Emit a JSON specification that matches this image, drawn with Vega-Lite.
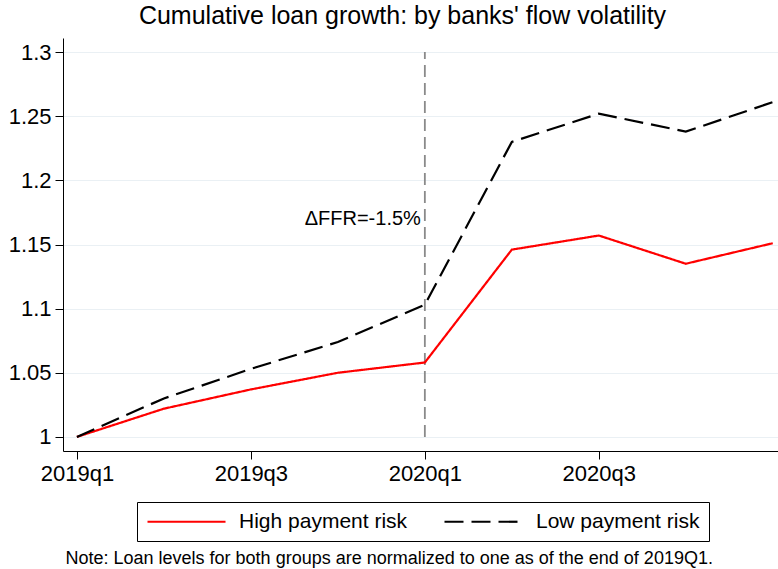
{
  "$schema": "https://vega.github.io/schema/vega-lite/v6.json",
  "width": 715,
  "height": 413,
  "autosize": {"type": "none"},
  "padding": {"left": 63, "top": 38, "right": 0, "bottom": 118},
  "background": "white",
  "title": {
    "text": "Cumulative loan growth: by banks' flow volatility",
    "font": "Liberation Sans",
    "fontSize": 25,
    "fontWeight": "normal",
    "color": "black",
    "anchor": "middle",
    "dx": -18,
    "offset": 9
  },
  "config": {
    "view": {"stroke": null},
    "font": "Liberation Sans"
  },
  "datasets": {
    "series": [
      {"t": 0, "group": "High payment risk", "value": 1.0},
      {"t": 1, "group": "High payment risk", "value": 1.022},
      {"t": 2, "group": "High payment risk", "value": 1.037},
      {"t": 3, "group": "High payment risk", "value": 1.05},
      {"t": 4, "group": "High payment risk", "value": 1.058},
      {"t": 5, "group": "High payment risk", "value": 1.146},
      {"t": 6, "group": "High payment risk", "value": 1.157},
      {"t": 7, "group": "High payment risk", "value": 1.135},
      {"t": 8, "group": "High payment risk", "value": 1.151},
      {"t": 0, "group": "Low payment risk", "value": 1.0},
      {"t": 1, "group": "Low payment risk", "value": 1.03},
      {"t": 2, "group": "Low payment risk", "value": 1.053},
      {"t": 3, "group": "Low payment risk", "value": 1.074},
      {"t": 4, "group": "Low payment risk", "value": 1.103},
      {"t": 5, "group": "Low payment risk", "value": 1.23},
      {"t": 6, "group": "Low payment risk", "value": 1.252},
      {"t": 7, "group": "Low payment risk", "value": 1.238},
      {"t": 8, "group": "Low payment risk", "value": 1.261}
    ],
    "one": [{}]
  },
  "layer": [
    {
      "data": {"name": "one"},
      "mark": {"type": "rule", "color": "#8a8a8a", "strokeDash": [12, 6], "strokeWidth": 1.8},
      "encoding": {
        "x": {"datum": 4, "type": "quantitative"},
        "y": {"datum": 1.0, "type": "quantitative"},
        "y2": {"datum": 1.3}
      }
    },
    {
      "data": {"name": "series"},
      "mark": {"type": "line", "strokeWidth": 2.2},
      "encoding": {
        "x": {
          "field": "t",
          "type": "quantitative",
          "scale": {"domain": [-0.16, 8.06], "nice": false, "zero": false},
          "axis": {
            "values": [0, 2, 4, 6],
            "labelExpr": "['2019q1','2019q2','2019q3','2019q4','2020q1','2020q2','2020q3','2020q4','2021q1'][datum.value]",
            "grid": false,
            "domainColor": "black",
            "tickColor": "black",
            "tickSize": 8,
            "labelFontSize": 22,
            "labelColor": "black",
            "labelPadding": 4,
            "title": "Note: Loan levels for both groups are normalized to one as of the end of 2019Q1.",
            "titleFontSize": 18,
            "titleFontWeight": "normal",
            "titleColor": "black",
            "titleAlign": "left",
            "titleAnchor": "start",
            "titleX": 2,
            "titleY": 112,
            "titleBaseline": "alphabetic"
          }
        },
        "y": {
          "field": "value",
          "type": "quantitative",
          "scale": {"domain": [0.989, 1.311], "nice": false, "zero": false},
          "axis": {
            "values": [1, 1.05, 1.1, 1.15, 1.2, 1.25, 1.3],
            "format": ".2~f",
            "grid": true,
            "gridColor": "#eaf0f4",
            "gridWidth": 1.2,
            "domainColor": "black",
            "tickColor": "black",
            "tickSize": 8,
            "labelFontSize": 22,
            "labelColor": "black",
            "labelPadding": 4,
            "title": null
          }
        },
        "color": {
          "field": "group",
          "type": "nominal",
          "scale": {"domain": ["High payment risk", "Low payment risk"], "range": ["#ff0000", "#000000"]},
          "legend": {
            "orient": "none",
            "legendX": 74,
            "legendY": 464,
            "direction": "horizontal",
            "title": null,
            "strokeColor": "black",
            "padding": 9,
            "symbolType": "M-1,0H7.67",
            "symbolSize": 324,
            "symbolStrokeWidth": 2.2,
            "labelFontSize": 21,
            "labelColor": "black",
            "labelOffset": 72,
            "columnPadding": 32,
            "labelLimit": 400
          }
        },
        "strokeDash": {
          "field": "group",
          "type": "nominal",
          "scale": {"domain": ["High payment risk", "Low payment risk"], "range": [[1, 0], [19, 8]]},
          "legend": null
        }
      }
    },
    {
      "data": {"name": "one"},
      "mark": {"type": "text", "align": "right", "baseline": "middle", "dx": -4, "fontSize": 20, "color": "black"},
      "encoding": {
        "x": {"datum": 4, "type": "quantitative"},
        "y": {"datum": 1.17, "type": "quantitative"},
        "text": {"value": "ΔFFR=-1.5%"}
      }
    }
  ]
}
